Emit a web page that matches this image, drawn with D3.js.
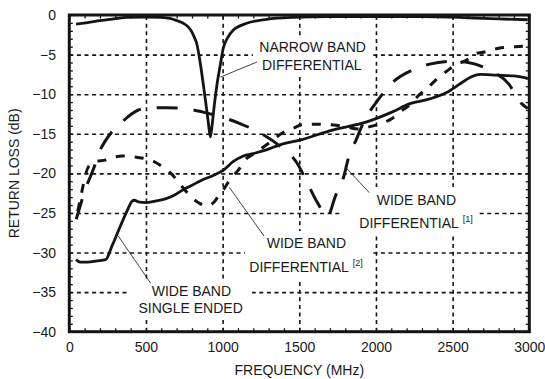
<!DOCTYPE html>
<html>
<head>
<meta charset="utf-8">
<script src="https://cdn.jsdelivr.net/npm/d3@7"></script>
<style>
  html, body { margin: 0; padding: 0; background: #fff; }
  svg { display: block; }
  text { font-family: "Liberation Sans", Arial, Helvetica, sans-serif; fill: #1a1a1a; }
</style>
</head>
<body>
<svg id="chart" width="545" height="379"></svg>
<script>
// ---------- data ----------
const freqTickValues = [0, 500, 1000, 1500, 2000, 2500, 3000];
const dbTickValues = [0, -5, -10, -15, -20, -25, -30, -35, -40];

const narrowFreq = [44, 120, 200, 290, 374, 500, 600, 657, 700, 744, 775, 798, 815, 831, 852, 870, 893, 908, 920, 932, 945, 963, 983, 1004, 1035, 1070, 1157, 1287, 1461, 1700, 2000, 2300, 2600, 2800, 2990];
const narrowDb   = [-1.14, -0.95, -0.72, -0.5, -0.3, -0.25, -0.3, -0.42, -0.7, -1.05, -1.5, -2.1, -2.8, -3.6, -5.8, -8.2, -11.5, -13.8, -15.4, -13.8, -11.5, -8.8, -6.5, -4.2, -2.8, -1.9, -1.05, -0.55, -0.3, -0.2, -0.2, -0.2, -0.35, -0.5, -0.6];

const singleFreq = [44, 70, 120, 180, 237, 280, 330, 380, 410, 424, 450, 500, 560, 631, 690, 740, 800, 860, 935, 1005, 1070, 1135, 1200, 1290, 1374, 1505, 1722, 1940, 2100, 2222, 2350, 2461, 2548, 2613, 2679, 2787, 2896, 2990];
const singleDb   = [-30.9, -31.2, -31.2, -31.05, -30.9, -29.1, -26.8, -24.6, -23.5, -23.4, -23.6, -23.7, -23.5, -23.2, -22.7, -22.1, -21.5, -20.9, -20.3, -19.6, -18.5, -17.8, -17.5, -17.0, -16.4, -15.8, -14.5, -13.5, -12.3, -11.2, -10.6, -9.8, -8.7, -7.9, -7.5, -7.6, -7.7, -8.0];

const wide1Freq = [45, 70, 100, 140, 170, 196, 235, 272, 330, 380, 430, 490, 630, 740, 880, 995, 1125, 1245, 1375, 1485, 1550, 1615, 1660, 1682, 1735, 1790, 1820, 1870, 1920, 2005, 2110, 2245, 2350, 2495, 2600, 2745, 2865, 2950, 2990];
const wide1Db   = [-25.8, -24.2, -22.2, -20.3, -18.8, -17.3, -15.9, -14.9, -13.8, -12.9, -12.2, -11.8, -11.7, -11.8, -12.3, -12.9, -13.8, -14.9, -16.6, -18.7, -21.1, -23.6, -25.0, -25.5, -22.9, -20.4, -18.1, -15.8, -13.5, -10.95, -8.5, -6.9, -6.2, -5.85, -6.0, -7.0, -8.7, -11.2, -11.8];

const wide2Freq = [55, 80, 105, 130, 170, 240, 283, 348, 413, 483, 539, 609, 663, 728, 772, 850, 900, 935, 972, 1004, 1048, 1102, 1157, 1200, 1300, 1407, 1461, 1526, 1602, 1657, 1722, 1800, 1885, 1961, 2050, 2110, 2168, 2211, 2287, 2331, 2407, 2461, 2527, 2592, 2646, 2700, 2777, 2831, 2907, 2990];
const wide2Db   = [-24.8, -22.5, -20.2, -19.0, -18.5, -18.3, -18.0, -17.8, -17.9, -18.1, -18.4, -19.2, -20.0, -21.5, -22.5, -23.8, -24.1, -23.8, -22.9, -22.1, -20.8, -19.6, -18.1, -17.6, -16.2, -14.7, -14.3, -13.8, -13.8, -13.8, -13.9, -14.1, -14.4, -14.1, -13.6, -13.0, -12.1, -11.5, -10.0, -9.3, -7.9, -7.1, -6.2, -5.7, -4.9, -4.7, -4.3, -4.1, -4.0, -3.9];

// ---------- layout ----------
const W = 545, H = 379;
const pLeft = 69.3, pRight = 529.3, pTop = 15, pBottom = 331.7;
const x = d3.scaleLinear().domain([0, 3000]).range([pLeft, pRight]);
const y = d3.scaleLinear().domain([-40, 0]).range([pBottom, pTop]);
const svg = d3.select("#chart");
const ink = "#141414";

// ---------- grid ----------
const gridX = svg.append("g").attr("transform", `translate(0,${pBottom})`)
  .call(d3.axisBottom(x).tickValues(d3.range(500, 3000, 500)).tickSize(-(pBottom - pTop)).tickFormat(""));
const gridY = svg.append("g").attr("transform", `translate(${pLeft},0)`)
  .call(d3.axisLeft(y).tickValues(d3.range(-35, 0, 5)).tickSize(-(pRight - pLeft)).tickFormat(""));
[gridX, gridY].forEach(g => {
  g.select(".domain").remove();
  g.selectAll("line").attr("stroke", ink).attr("stroke-width", 1.6).attr("stroke-dasharray", "4,3.6");
});

// ---------- label backgrounds (mask grid) ----------
const masks = [
  [253, 36, 117, 40],
  [342, 187, 135, 47],
  [245, 231, 127, 49],
  [130, 281, 122, 37]
];
svg.append("g").selectAll("rect").data(masks).join("rect")
  .attr("x", d => d[0]).attr("y", d => d[1]).attr("width", d => d[2]).attr("height", d => d[3])
  .attr("fill", "#fff");

// ---------- curves ----------
const mk = (fs, ds) => fs.map((f, i) => [f, ds[i]]);
const line = d3.line().x(d => x(d[0])).y(d => y(d[1])).curve(d3.curveMonotoneX);
const series = [
  { data: mk(narrowFreq, narrowDb), dash: null, w: 2.8 },
  { data: mk(singleFreq, singleDb), dash: null, w: 2.8 },
  { data: mk(wide1Freq, wide1Db), dash: "21,16", w: 3 },
  { data: mk(wide2Freq, wide2Db), dash: "9,10", w: 3 }
];
svg.append("g").selectAll("path").data(series).join("path")
  .attr("d", d => line(d.data))
  .attr("fill", "none").attr("stroke", ink)
  .attr("stroke-width", d => d.w)
  .attr("stroke-dasharray", d => d.dash)
  .attr("stroke-linejoin", "round");

// ---------- minor ticks on all sides ----------
const minorF = d3.range(0, 3001, 100);
const minorD = d3.range(-40, 1, 1);
function minor(g) { g.select(".domain").remove(); g.selectAll("line").attr("stroke", ink).attr("stroke-width", 1.3); }
svg.append("g").attr("transform", `translate(0,${pBottom})`)
  .call(d3.axisBottom(x).tickValues(minorF).tickSize(-3.5).tickFormat("")).call(minor);
svg.append("g").attr("transform", `translate(0,${pTop})`)
  .call(d3.axisTop(x).tickValues(minorF).tickSize(-3.5).tickFormat("")).call(minor);
svg.append("g").attr("transform", `translate(${pLeft},0)`)
  .call(d3.axisLeft(y).tickValues(minorD).tickSize(-3.5).tickFormat("")).call(minor);
svg.append("g").attr("transform", `translate(${pRight},0)`)
  .call(d3.axisRight(y).tickValues(minorD).tickSize(-3.5).tickFormat("")).call(minor);

// ---------- frame ----------
svg.append("rect").attr("x", pLeft).attr("y", pTop).attr("width", pRight - pLeft).attr("height", pBottom - pTop)
  .attr("fill", "none").attr("stroke", ink).attr("stroke-width", 3);

// ---------- tick labels ----------
const xl = svg.append("g").attr("transform", `translate(0,${pBottom})`)
  .call(d3.axisBottom(x).tickValues(freqTickValues).tickSize(0).tickPadding(10.4).tickFormat(d3.format("d")));
const yl = svg.append("g").attr("transform", `translate(${pLeft},0)`)
  .call(d3.axisLeft(y).tickValues(dbTickValues).tickSize(0).tickPadding(13.3).tickFormat(d3.format("d")));
[xl, yl].forEach(g => {
  g.select(".domain").remove();
  g.selectAll("text").attr("font-size", 14).attr("font-family", '"Liberation Sans", Arial, sans-serif').attr("fill", "#1a1a1a");
});

// ---------- axis titles ----------
svg.append("text").attr("x", (pLeft + pRight) / 2).attr("y", 375).attr("text-anchor", "middle")
  .attr("font-size", 14).text("FREQUENCY (MHz)");
svg.append("text").attr("transform", `translate(19,${(pTop + pBottom) / 2}) rotate(-90)`).attr("text-anchor", "middle")
  .attr("font-size", 14).text("RETURN LOSS (dB)");

// ---------- annotations ----------
const ann = svg.append("g");
function label(lines, sup) {
  lines.forEach((l, i) => {
    const t = ann.append("text").attr("x", l[0]).attr("y", l[1]).attr("font-size", 14).text(l[2]);
    if (sup && i === lines.length - 1) {
      t.append("tspan").text("\u00a0").attr("font-size", 14);
      t.append("tspan").attr("font-size", 9).attr("dy", -6).text(sup);
    }
  });
}
label([[259.3, 52, "NARROW BAND"], [262, 70, "DIFFERENTIAL"]]);
label([[376.7, 205, "WIDE BAND"], [359.3, 228.3, "DIFFERENTIAL"]], "[1]");
label([[266.7, 248.3, "WIDE BAND"], [249.3, 271.7, "DIFFERENTIAL"]], "[2]");
label([[151.7, 296, "WIDE BAND"], [138.5, 312.7, "SINGLE ENDED"]]);

const leaders = [
  [220.5, 77, 257, 62],
  [345, 166.7, 369.3, 192.7],
  [229.3, 187.3, 264, 236],
  [118.3, 236, 150.7, 283.3]
];
ann.selectAll("line").data(leaders).join("line")
  .attr("x1", d => d[0]).attr("y1", d => d[1]).attr("x2", d => d[2]).attr("y2", d => d[3])
  .attr("stroke", ink).attr("stroke-width", 0.8);
</script>
</body>
</html>
